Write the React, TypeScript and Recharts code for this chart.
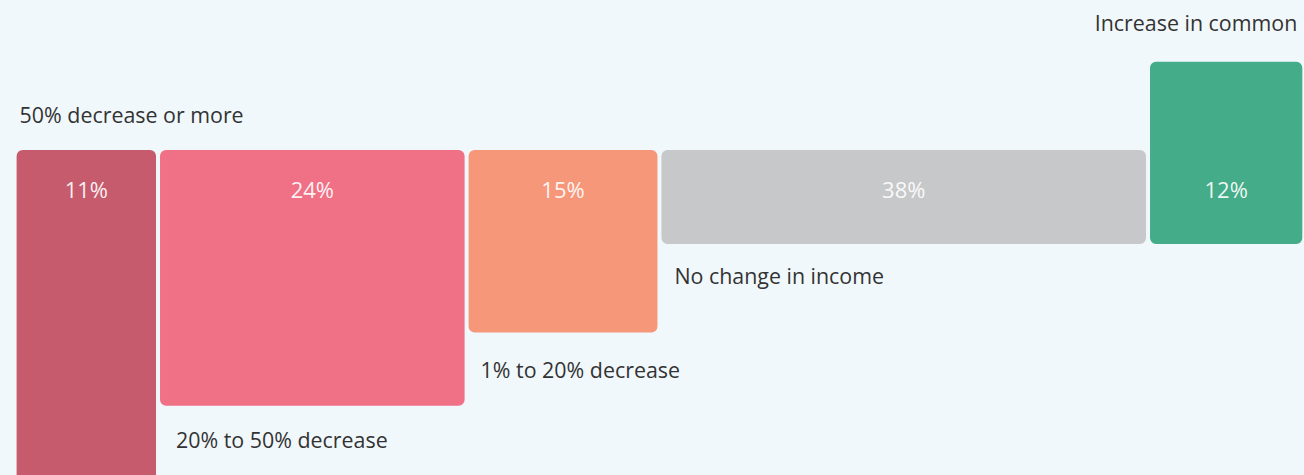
import React from 'react';
import { ComposedChart, XAxis, YAxis, ReferenceArea, Rectangle } from 'recharts';

const categories = [
  '50% decrease or more',
  '20% to 50% decrease',
  '1% to 20% decrease',
  'No change in income',
  'Increase in common',
];
const shares = [11, 24, 15, 38, 12];
const shareLabels = ['11%', '24%', '15%', '38%', '12%'];
const barTops = [1, 1, 1, 1, 1.94];
const barBottoms = [-3, -1.72, -0.94, 0, 0];

const colors = ['#c55b6c', '#f07086', '#f6977a', '#c7c8ca', '#44ac88'];

// label placement (style only)
const labelPlacement = [
  { side: 'top', anchor: 'start', dx: 3, dy: -27 },
  { side: 'bottom', anchor: 'start', dx: 16, dy: 42 },
  { side: 'bottom', anchor: 'start', dx: 12, dy: 46 },
  { side: 'bottom', anchor: 'start', dx: 13, dy: 40 },
  { side: 'top', anchor: 'end', dx: -5, dy: -31 },
];

const W = 1304;
const H = 475;
const FONT = '"Open Sans", "Noto Sans", sans-serif';
const GAP = 2;

const starts: number[] = [];
{
  let acc = 0;
  for (const s of shares) {
    starts.push(acc);
    acc += s;
  }
}

const data = categories.map((c, i) => ({
  name: c,
  start: starts[i],
  end: starts[i] + shares[i],
  low: barBottoms[i],
  high: barTops[i],
}));

function inset(i: number, x: number, width: number) {
  const l = i === 0 ? 0 : GAP;
  const r = i === data.length - 1 ? 0 : GAP;
  return { bx: x + l, bw: width - l - r };
}

function makeShape(i: number) {
  return (props: any) => {
    const { x, y, width, height } = props;
    const { bx, bw } = inset(i, x, width);
    const p = labelPlacement[i];
    const lx = p.anchor === 'start' ? bx + p.dx : bx + bw + p.dx;
    const ly = p.side === 'top' ? y + p.dy : y + height + p.dy;
    return (
      <g>
        <Rectangle x={bx} y={y} width={bw} height={height} radius={6} fill={colors[i]} />
        <text
          x={lx}
          y={ly}
          textAnchor={p.anchor as any}
          fill="#333333"
          fontSize={21.4}
          fontFamily={FONT}
        >
          {categories[i]}
        </text>
      </g>
    );
  };
}

function makeValueLabel(i: number) {
  return (props: any) => {
    const { x, y, width } = props;
    const { bx, bw } = inset(i, x, width);
    return (
      <text
        x={bx + bw / 2}
        y={y + 48}
        textAnchor="middle"
        fill="#ffffff"
        fillOpacity={0.92}
        fontSize={22}
        fontFamily={FONT}
      >
        {shareLabels[i]}
      </text>
    );
  };
}

export default function App() {
  return (
    <div
      style={{
        position: 'absolute',
        top: 0,
        left: 0,
        width: W,
        height: H,
        background: '#f1f8fc',
        overflow: 'hidden',
      }}
    >
      <ComposedChart
        width={W}
        height={H}
        data={data}
        margin={{ top: 0, right: 1.7, bottom: 0, left: 16.6 }}
        style={{ overflow: 'visible' }}
      >
        <XAxis type="number" dataKey="start" domain={[0, 100]} allowDataOverflow hide />
        <YAxis type="number" domain={[-2.457, 2.596]} allowDataOverflow hide />
        {data.map((d, i) => (
          <ReferenceArea
            key={d.name}
            x1={d.start}
            x2={d.end}
            y1={d.low}
            y2={d.high}
            ifOverflow="visible"
            shape={makeShape(i)}
          />
        ))}
        {data.map((d, i) => (
          <ReferenceArea
            key={d.name + '-label'}
            x1={d.start}
            x2={d.end}
            y1={0}
            y2={1}
            ifOverflow="visible"
            shape={makeValueLabel(i)}
          />
        ))}
      </ComposedChart>
    </div>
  );
}
